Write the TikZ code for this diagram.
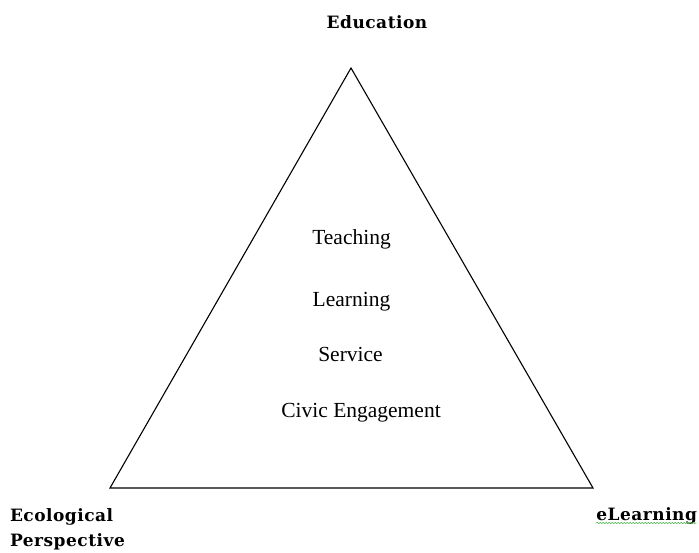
\documentclass[tikz,border=0pt]{standalone}
\usepackage{fontspec}
\setmainfont{Liberation Serif}
\newfontfamily\cornerfont[LetterSpace=3]{DejaVu Serif}
\usetikzlibrary{decorations.pathmorphing}

\begin{document}
\begin{tikzpicture}
   [x=1pt,y=1pt,every node/.style={inner sep=0pt,outer sep=0pt},
    corner/.style={font=\cornerfont\bfseries\fontsize{17}{17}\selectfont},
    item/.style={anchor=base,font=\fontsize{21.5}{21.5}\selectfont}]

  \useasboundingbox (0,0) rectangle (699,552);

  \coordinate (top) at (351,484);
  \coordinate (left) at (110,64);
  \coordinate (right) at (593,64);

  \draw[line width=1.1pt] (top) -- (right) -- (left) -- cycle;

  \node[corner,anchor=base] (edu) at (377,523) {Education};
  \node[corner,anchor=base west] (eco) at (10,31) {Ecological};
  \node[corner,anchor=base west] (persp) at (10,6) {Perspective};
  \node[corner,anchor=base east] (elearn) at (697,32) {eLearning};

  \foreach \name/\x/\y/\txt in {teach/351.5/307/Teaching,learn/351.5/245/Learning,
      serv/350.5/190/Service,civic/361/134/Civic Engagement}
    \node[item] (\name) at (\x,\y) {\txt};

  \draw[green!60!black!70,line width=0.6pt,decorate,
        decoration={snake,amplitude=0.6pt,segment length=3pt}]
    (elearn.base west) ++(0,-3) -- ++(100,0);

\end{tikzpicture}
\end{document}
